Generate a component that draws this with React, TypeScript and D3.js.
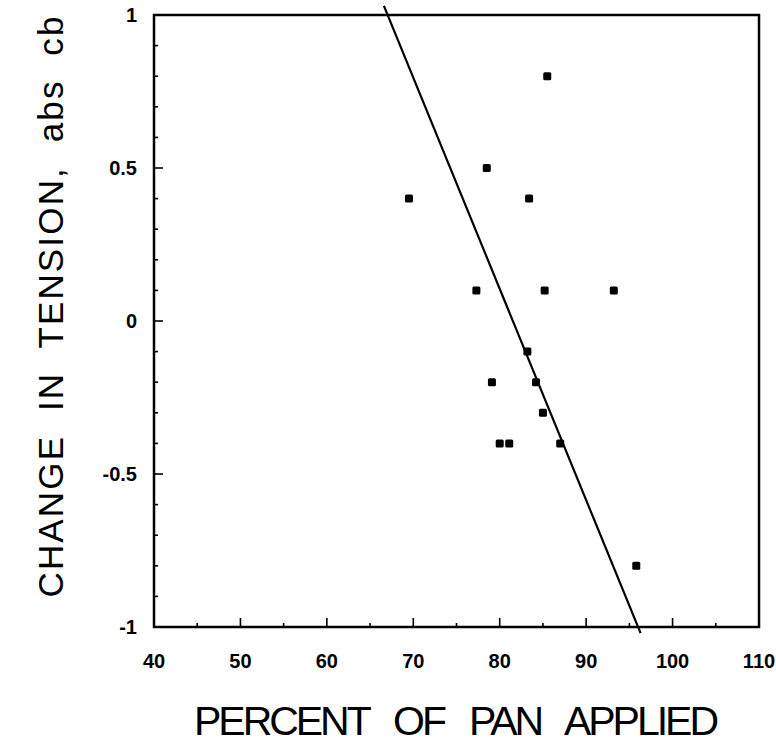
import React, { useEffect, useRef } from 'react';
import * as d3 from 'd3';

// percent of pan applied vs change in tension
const panPercent = [69.5, 78.5, 83.4, 85.5, 77.3, 85.2, 93.2, 83.2, 79.1, 84.2, 85.0, 80.0, 81.1, 87.0, 95.8];
const tensionChange = [0.4, 0.5, 0.4, 0.8, 0.1, 0.1, 0.1, -0.1, -0.2, -0.2, -0.3, -0.4, -0.4, -0.4, -0.8];

// fitted line end points (drawn slightly past the frame, like the original)
const fitX = [66.6, 96.3];
const fitY = [1.03, -1.02];

const xTicks = [40, 50, 60, 70, 80, 90, 100, 110];
const xMinorTicks = [45, 55, 65, 75, 85, 95, 105];
const yTicks = [-1, -0.5, 0, 0.5, 1];
const yMinorTicks = [-0.9, -0.8, -0.7, -0.6, -0.4, -0.3, -0.2, -0.1, 0.1, 0.2, 0.3, 0.4, 0.6, 0.7, 0.8, 0.9];

const W = 776;
const H = 746;
const MARGIN = { top: 15, right: 17, bottom: 119, left: 154 };
const WIDTH = W - MARGIN.left - MARGIN.right;
const HEIGHT = H - MARGIN.top - MARGIN.bottom;

const App = () => {
    const ref = useRef<SVGSVGElement>(null);

    useEffect(() => {
        const root = d3.select(ref.current);
        root.selectAll('*').remove();

        const svg = root.append('g')
            .attr('transform', 'translate(' + MARGIN.left + ',' + MARGIN.top + ')');

        const xScale = d3.scaleLinear().domain([40, 110]).range([0, WIDTH]);
        const yScale = d3.scaleLinear().domain([-1, 1]).range([HEIGHT, 0]);

        // frame
        svg.append('rect')
            .attr('x', 0).attr('y', 0)
            .attr('width', WIDTH).attr('height', HEIGHT)
            .attr('fill', 'none')
            .attr('stroke', '#000')
            .attr('stroke-width', 2.5);

        // x ticks point up into the plot
        svg.selectAll('.xtick')
            .data(xTicks.slice(1, -1))
            .enter().append('line')
            .attr('x1', d => xScale(d)).attr('x2', d => xScale(d))
            .attr('y1', HEIGHT).attr('y2', HEIGHT - 9)
            .attr('stroke', '#000').attr('stroke-width', 1.6);

        svg.selectAll('.xminor')
            .data(xMinorTicks)
            .enter().append('line')
            .attr('x1', d => xScale(d)).attr('x2', d => xScale(d))
            .attr('y1', HEIGHT).attr('y2', HEIGHT - 4)
            .attr('stroke', '#000').attr('stroke-width', 1.6);

        svg.selectAll('.ytick')
            .data(yTicks.slice(1, -1))
            .enter().append('line')
            .attr('x1', 0).attr('x2', 9)
            .attr('y1', d => yScale(d)).attr('y2', d => yScale(d))
            .attr('stroke', '#000').attr('stroke-width', 1.6);

        svg.selectAll('.yminor')
            .data(yMinorTicks)
            .enter().append('line')
            .attr('x1', 0).attr('x2', 4)
            .attr('y1', d => yScale(d)).attr('y2', d => yScale(d))
            .attr('stroke', '#000').attr('stroke-width', 1.6);

        // tick labels
        svg.selectAll('.xlabel')
            .data(xTicks)
            .enter().append('text')
            .attr('x', d => xScale(d))
            .attr('y', HEIGHT + 41)
            .attr('text-anchor', 'middle')
            .style('font-family', '"Liberation Sans", Arial, sans-serif')
            .style('font-weight', 'bold')
            .style('font-size', '20px')
            .text(d => d);

        svg.selectAll('.ylabel')
            .data(yTicks)
            .enter().append('text')
            .attr('x', -17)
            .attr('y', d => yScale(d))
            .attr('dy', '0.35em')
            .attr('text-anchor', 'end')
            .style('font-family', '"Liberation Sans", Arial, sans-serif')
            .style('font-weight', 'bold')
            .style('font-size', '20px')
            .text(d => d);

        // fitted line
        const line = d3.line<number>()
            .x((d, i) => xScale(fitX[i]))
            .y(d => yScale(d));

        svg.append('path')
            .datum(fitY)
            .attr('fill', 'none')
            .attr('stroke', '#000')
            .attr('stroke-width', 2.2)
            .attr('d', line);

        // points
        svg.selectAll('.pt')
            .data(panPercent)
            .enter().append('rect')
            .attr('x', d => xScale(d) - 4)
            .attr('y', (d, i) => yScale(tensionChange[i]) - 4)
            .attr('width', 8).attr('height', 8)
            .attr('rx', 1.5)
            .attr('fill', '#000');

        // axis titles
        svg.append('text')
            .attr('x', WIDTH / 2)
            .attr('y', HEIGHT + 108)
            .attr('text-anchor', 'middle')
            .attr('textLength', 525)
            .attr('lengthAdjust', 'spacing')
            .style('font-family', '"Liberation Sans Narrow", "Liberation Sans", sans-serif')
            .style('font-size', '41px')
            .style('white-space', 'pre')
            .text('PERCENT   OF   PAN   APPLIED');

        svg.append('text')
            .attr('transform', 'translate(' + (63 - MARGIN.left) + ',' + (307 - MARGIN.top) + ') rotate(-90)')
            .attr('text-anchor', 'middle')
            .attr('textLength', 581)
            .attr('lengthAdjust', 'spacing')
            .style('font-family', '"Liberation Sans", Arial, sans-serif')
            .style('font-size', '35px')
            .style('white-space', 'pre')
            .text('CHANGE  IN  TENSION,  abs  cb');
    }, []);

    return (
        <svg ref={ref} width={W} height={H}
            style={{ position: 'absolute', left: 0, top: 0, background: '#fff' }} />
    );
};

export default App;
